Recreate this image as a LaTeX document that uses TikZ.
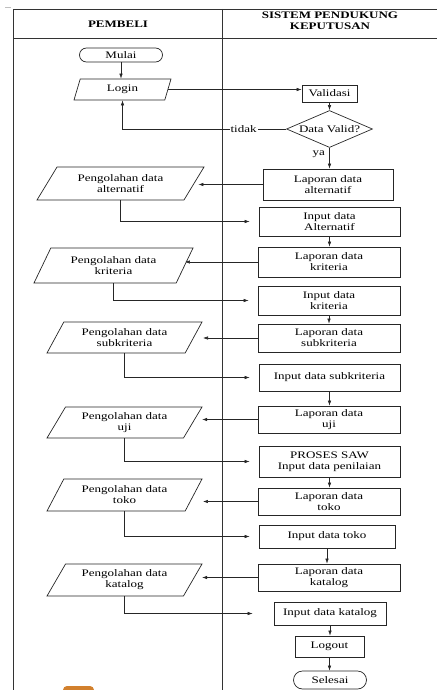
\documentclass[tikz,border=0pt]{standalone}
\usepackage{fontspec}
\setmainfont{Liberation Serif}[FakeStretch=1.3]
\usepackage{tikz}
\usetikzlibrary{arrows.meta,shapes.geometric,shapes.misc,positioning,calc}

\begin{document}
\begin{tikzpicture}[x=1pt, y=-1pt,
    font=\fontsize{10}{11}\selectfont,
    proc/.style={draw=black!85, line width=0.7pt, rectangle, align=center, inner sep=1pt},
    io/.style={draw=black!85, line width=0.7pt, trapezium, trapezium left angle=45, trapezium right angle=135,
               trapezium stretches body, align=center, inner sep=1pt},
    term/.style={draw=black!85, line width=0.7pt, rounded rectangle, inner sep=1pt},
    dec/.style={draw=black!85, line width=0.7pt, diamond, aspect=2.3, inner sep=1pt},
    lane/.style={draw=black!80, line width=0.8pt},
    arr/.style={draw=black!85, line width=0.6pt, -{Latex[length=5pt,width=3.5pt]}}
]
\useasboundingbox (0,0) rectangle (437,690);
\draw[gray!50] (5,7) -- (11,7);
\draw[lane] (13,690) -- (13,9) -- (437,9);
\draw[lane] (13,38) -- (437,38);
\draw[lane] (222,9) -- (222,690);
\fill[brown!70!orange, rounded corners=4pt] (63,686) rectangle (94,696);

\node[font=\fontsize{10}{11}\selectfont\bfseries] (hbeli) at (118,24) {PEMBELI};
\node[font=\fontsize{10}{11}\selectfont\bfseries, align=center] (hspk) at (330,21) {SISTEM PENDUKUNG\\KEPUTUSAN};

\node[term, minimum width=85pt, minimum height=14pt] (mulai) at (121,55) {Mulai};
\node[io, trapezium left angle=60, trapezium right angle=120, minimum width=97pt, minimum height=21pt] (login) at (122.5,89.5) {Login};
\node[proc, minimum width=55pt, minimum height=17pt] (valid) at (329.5,93.5) {Validasi};
\node[dec, minimum width=86pt, minimum height=37pt] (cek) at (329.5,129) {Data Valid?};

\node[proc, minimum width=130pt, minimum height=31pt] (lapalt) at (328,184.5) {Laporan data\\alternatif};
\node[io, minimum width=167pt, minimum height=33pt] (olahalt) at (120.5,183.5) {Pengolahan data\\alternatif};
\node[proc, minimum width=141pt, minimum height=29pt] (inalt) at (329.5,221.5) {Input data\\Alternatif};

\node[proc, minimum width=142pt, minimum height=30pt] (lapkrit) at (329,262) {Laporan data\\kriteria};
\node[io, trapezium left angle=50, trapezium right angle=130, minimum width=159pt, minimum height=35pt] (olahkrit) at (113.5,265.5) {Pengolahan data\\kriteria};
\node[proc, minimum width=142pt, minimum height=29pt] (inkrit) at (329,300.5) {Input data\\kriteria};

\node[proc, minimum width=142pt, minimum height=28pt] (lapsub) at (329,338) {Laporan data\\subkriteria};
\node[io, trapezium left angle=50, trapezium right angle=130, minimum width=155pt, minimum height=31pt] (olahsub) at (124.5,337.5) {Pengolahan data\\subkriteria};
\node[proc, minimum width=141pt, minimum height=27pt] (insub) at (329.5,377.5) {Input data subkriteria};

\node[proc, minimum width=142pt, minimum height=27pt] (lapuji) at (329,419.5) {Laporan data\\uji};
\node[io, trapezium left angle=50, trapezium right angle=130, minimum width=155pt, minimum height=31pt] (olahuji) at (124.5,422.5) {Pengolahan data\\uji};
\node[proc, minimum width=141pt, minimum height=31pt] (saw) at (329.5,461.5) {PROSES SAW\\Input data penilaian};

\node[proc, minimum width=142pt, minimum height=27pt] (laptoko) at (329,501.5) {Laporan data\\toko};
\node[io, trapezium left angle=50, trapezium right angle=130, minimum width=155pt, minimum height=32pt] (olahtoko) at (124.5,495) {Pengolahan data\\toko};
\node[proc, minimum width=136pt, minimum height=23pt] (intoko) at (327,536.5) {Input data toko};

\node[proc, minimum width=142pt, minimum height=27pt] (lapkat) at (329,577.5) {Laporan data\\katalog};
\node[io, trapezium left angle=50, trapezium right angle=130, minimum width=155pt, minimum height=32pt] (olahkat) at (124.5,580) {Pengolahan data\\katalog};
\node[proc, minimum width=112pt, minimum height=23pt] (inkat) at (330,613.5) {Input data katalog};

\node[proc, minimum width=69pt, minimum height=21pt] (logout) at (329.5,646.5) {Logout};
\node[term, minimum width=75pt, minimum height=18pt] (selesai) at (330,680) {Selesai};

\draw[arr] (mulai.south) -- (mulai.south |- login.north);
\draw[arr] (login.east) -- (login.east -| valid.west);
\draw[arr] (valid.south) -- (valid.south |- cek.north);
\draw[arr] (cek.west) -| node[pos=0.13, fill=white, inner sep=1pt] {tidak} (login.south);
\draw[arr] (cek.south) -- node[pos=0.3, left=1pt] {ya} (cek.south |- lapalt.north);

\draw[arr, shorten >=4pt] (lapalt.west) -- (lapalt.west -| olahalt.east);
\draw[arr, shorten >=9pt] (olahalt.south) |- (inalt.west);
\draw[arr] (inalt.south) -- (inalt.south |- lapkrit.north);
\draw[arr] (lapkrit.west) -- (lapkrit.west -| olahkrit.east);
\draw[arr, shorten >=9pt] (olahkrit.south) |- (inkrit.west);
\draw[arr] (inkrit.south) -- (inkrit.south |- lapsub.north);
\draw[arr, shorten >=9pt] (lapsub.west) -- (lapsub.west -| olahsub.east);
\draw[arr, shorten >=9pt] (olahsub.south) |- (insub.west);
\draw[arr] (insub.south) -- (insub.south |- lapuji.north);
\draw[arr, shorten >=9pt] (lapuji.west) -- (lapuji.west -| olahuji.east);
\draw[arr, shorten >=9pt] (olahuji.south) |- (saw.west);
\draw[arr] (saw.south) -- (saw.south |- laptoko.north);
\draw[arr, shorten >=9pt] (laptoko.west) -- (laptoko.west -| olahtoko.east);
\draw[arr, shorten >=9pt] (olahtoko.south) |- (intoko.west);
\draw[arr] (intoko.south) -- (intoko.south |- lapkat.north);
\draw[arr, shorten >=9pt] (lapkat.west) -- (lapkat.west -| olahkat.east);
\draw[arr, shorten >=21pt] (olahkat.south) |- (inkat.west);
\draw[arr] (inkat.south) -- (inkat.south |- logout.north);
\draw[arr] (logout.south) -- (logout.south |- selesai.north);
\end{tikzpicture}
\end{document}
